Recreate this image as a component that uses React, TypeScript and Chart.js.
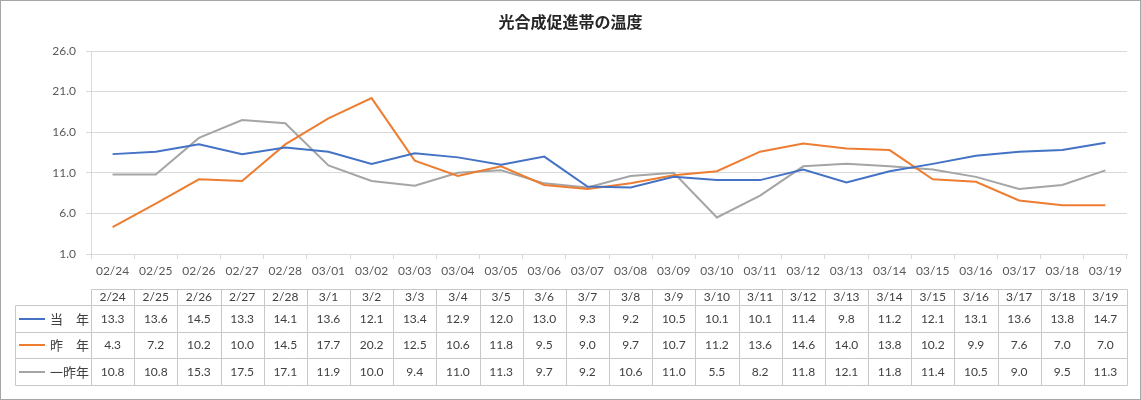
import React, { useEffect, useRef } from 'react';
import { Chart, registerables } from 'chart.js';

Chart.register(...registerables);

const chartTitle = '光合成促進帯の温度';
const axisLabels = ['02/24', '02/25', '02/26', '02/27', '02/28', '03/01', '03/02', '03/03', '03/04', '03/05', '03/06', '03/07', '03/08', '03/09', '03/10', '03/11', '03/12', '03/13', '03/14', '03/15', '03/16', '03/17', '03/18', '03/19'];
const tableLabels = ['2/24', '2/25', '2/26', '2/27', '2/28', '3/1', '3/2', '3/3', '3/4', '3/5', '3/6', '3/7', '3/8', '3/9', '3/10', '3/11', '3/12', '3/13', '3/14', '3/15', '3/16', '3/17', '3/18', '3/19'];
const seriesNames = ['当　年', '昨　年', '一昨年'];
const thisYear = [13.3, 13.6, 14.5, 13.3, 14.1, 13.6, 12.1, 13.4, 12.9, 12.0, 13.0, 9.3, 9.2, 10.5, 10.1, 10.1, 11.4, 9.8, 11.2, 12.1, 13.1, 13.6, 13.8, 14.7];
const lastYear = [4.3, 7.2, 10.2, 10.0, 14.5, 17.7, 20.2, 12.5, 10.6, 11.8, 9.5, 9.0, 9.7, 10.7, 11.2, 13.6, 14.6, 14.0, 13.8, 10.2, 9.9, 7.6, 7.0, 7.0];
const twoYearsAgo = [10.8, 10.8, 15.3, 17.5, 17.1, 11.9, 10.0, 9.4, 11.0, 11.3, 9.7, 9.2, 10.6, 11.0, 5.5, 8.2, 11.8, 12.1, 11.8, 11.4, 10.5, 9.0, 9.5, 11.3];
const seriesColors = ['#4472C4', '#ED7D31', '#A5A5A5'];
const yMin = 1;
const yMax = 26;
const yStep = 5;

const latin = "Lato, 'Noto Sans CJK JP', sans-serif";
const cjk = "'Noto Sans CJK JP', sans-serif";

const overlayPlugin = {
  id: 'overlay',
  afterDraw(chart: any) {
    const ctx: CanvasRenderingContext2D = chart.ctx;
    const xs = chart.scales.x;
    ctx.save();

    // outer border
    ctx.strokeStyle = '#a6a6a6';
    ctx.lineWidth = 1;
    ctx.strokeRect(0.5, 0.5, chart.width - 1, chart.height - 1);

    // title
    ctx.fillStyle = '#262626';
    ctx.font = `bold 16px ${cjk}`;
    ctx.textAlign = 'center';
    ctx.textBaseline = 'middle';
    ctx.fillText(chartTitle, chart.width / 2, 21.5);

    // data table
    const n = tableLabels.length;
    const step = xs.getPixelForValue(1) - xs.getPixelForValue(0);
    const colLeft = xs.getPixelForValue(0) - step / 2;
    const colRight = xs.getPixelForValue(n - 1) + step / 2;
    const tableLeft = 15;
    const rowY = [289, 305, 331.5, 358, 385];
    const snap = (v: number) => Math.round(v) + 0.5;

    ctx.strokeStyle = '#c8c8c8';
    ctx.lineWidth = 1;
    ctx.beginPath();
    ctx.moveTo(snap(colLeft), snap(rowY[0]));
    ctx.lineTo(snap(colRight), snap(rowY[0]));
    for (let r = 1; r < rowY.length; r++) {
      ctx.moveTo(snap(tableLeft), snap(rowY[r]));
      ctx.lineTo(snap(colRight), snap(rowY[r]));
    }
    ctx.moveTo(snap(tableLeft), snap(rowY[1]));
    ctx.lineTo(snap(tableLeft), snap(rowY[4]));
    for (let i = 0; i <= n; i++) {
      const x = snap(colLeft + i * step);
      ctx.moveTo(x, snap(rowY[0]));
      ctx.lineTo(x, snap(rowY[4]));
    }
    ctx.stroke();

    ctx.fillStyle = '#404040';
    ctx.textAlign = 'center';
    ctx.textBaseline = 'middle';
    ctx.font = `12px ${latin}`;
    for (let i = 0; i < n; i++) {
      const cx = xs.getPixelForValue(i);
      ctx.fillText(tableLabels[i], cx, (rowY[0] + rowY[1]) / 2 + 0.5);
    }
    chart.data.datasets.forEach((ds: any, r: number) => {
      const cy = (rowY[r + 1] + rowY[r + 2]) / 2 + 0.5;
      ds.data.forEach((v: number, i: number) => {
        ctx.fillText(v.toFixed(1), xs.getPixelForValue(i), cy);
      });
      // legend key
      ctx.strokeStyle = ds.borderColor;
      ctx.lineWidth = 2;
      ctx.beginPath();
      ctx.moveTo(19, Math.round(cy));
      ctx.lineTo(45, Math.round(cy));
      ctx.stroke();
      ctx.font = `13px ${cjk}`;
      ctx.textAlign = 'left';
      ctx.fillText(ds.label, 50, cy);
      ctx.textAlign = 'center';
      ctx.font = `12px ${latin}`;
    });

    ctx.restore();
  },
};

export default function App() {
  const canvasRef = useRef<HTMLCanvasElement | null>(null);

  useEffect(() => {
    document.body.style.margin = '0';
    const canvas = canvasRef.current;
    if (!canvas) return;
    const chart = new Chart(canvas, {
      type: 'line',
      data: {
        labels: axisLabels,
        datasets: [
          { label: seriesNames[0], data: thisYear, borderColor: seriesColors[0], backgroundColor: seriesColors[0] },
          { label: seriesNames[1], data: lastYear, borderColor: seriesColors[1], backgroundColor: seriesColors[1] },
          { label: seriesNames[2], data: twoYearsAgo, borderColor: seriesColors[2], backgroundColor: seriesColors[2] },
        ].map((d) => ({ ...d, borderWidth: 2, pointRadius: 0, tension: 0, fill: false })),
      },
      options: {
        animation: false,
        responsive: false,
        devicePixelRatio: 1,
        layout: { padding: { top: 51, right: 14, bottom: 106, left: 0 } },
        plugins: {
          legend: { display: false },
          title: { display: false },
          tooltip: { enabled: false },
        },
        scales: {
          x: {
            offset: true,
            grid: {
              offset: true,
              drawOnChartArea: false,
              drawTicks: true,
              tickLength: 5,
              color: '#d9d9d9',
            },
            border: { display: true, color: '#d9d9d9' },
            ticks: {
              autoSkip: false,
              maxRotation: 0,
              minRotation: 0,
              padding: 5,
              color: '#595959',
              font: { family: latin, size: 12 },
            },
            afterFit: (s: any) => { s.height = 40; },
          },
          y: {
            min: yMin,
            max: yMax,
            grid: { color: '#d9d9d9', drawTicks: true, tickLength: 5 },
            border: { display: true, color: '#d9d9d9' },
            ticks: {
              stepSize: yStep,
              padding: 10,
              color: '#595959',
              font: { family: latin, size: 12 },
              callback: (v: any) => Number(v).toFixed(1),
            },
            afterFit: (s: any) => { s.width = 91; },
          },
        },
      },
      plugins: [overlayPlugin],
    });
    return () => chart.destroy();
  }, []);

  return (
    <div style={{ width: 1141, height: 400, position: 'relative', background: '#fff' }}>
      <canvas ref={canvasRef} width={1141} height={400} style={{ display: 'block' }} />
    </div>
  );
}
